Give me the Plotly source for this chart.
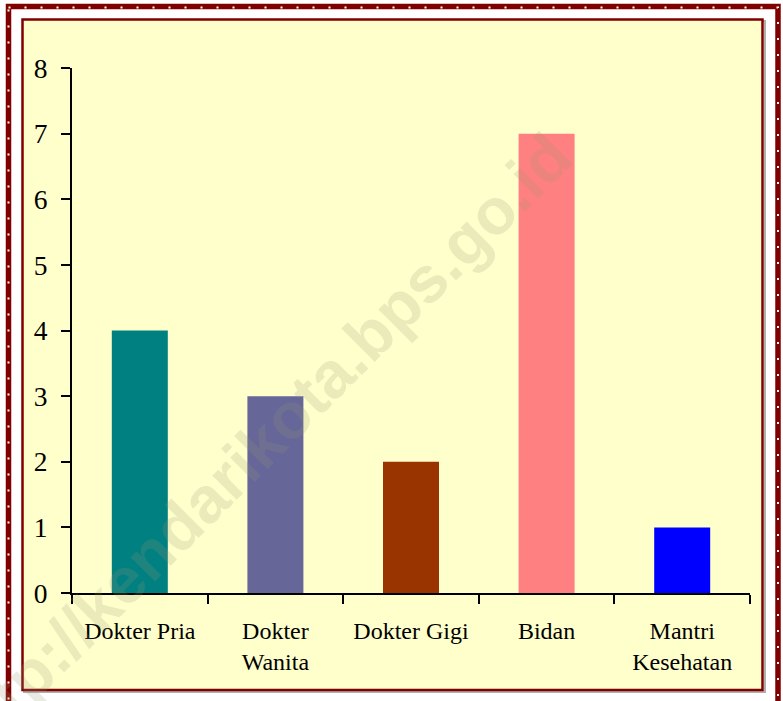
import plotly.graph_objects as go

categories = ["Dokter Pria", "Dokter<br>Wanita", "Dokter Gigi", "Bidan", "Mantri<br>Kesehatan"]
values = [4, 3, 2, 7, 1]
bar_colors = ["#008080", "#666699", "#993300", "#FF8080", "#0000FF"]
y_ticks = [0, 1, 2, 3, 4, 5, 6, 7, 8]
watermark = "http://kendarikota.bps.go.id"

W, H = 783, 701
L, R, T, B = 72, 750, 68, 593  # plot area in pixels


def px(x):
    return (x - L) / (R - L)


def py(y):
    return (B - y) / (B - T)


fig = go.Figure()
fig.add_trace(go.Bar(x=categories, y=values, marker=dict(color=bar_colors, line=dict(width=0)),
                     hoverinfo="skip"))

shapes = [
    # inner frame shadow
    dict(type="rect", xref="paper", yref="paper", x0=px(24), x1=px(765), y0=py(21), y1=py(692),
         line=dict(color="#B0B0B0", width=2), fillcolor="rgba(0,0,0,0)", layer="below"),
    # inner frame (yellow panel)
    dict(type="rect", xref="paper", yref="paper", x0=px(22.5), x1=px(762.5), y0=py(19.5), y1=py(690),
         line=dict(color="#800000", width=2.5), fillcolor="#FFFFCC", layer="below"),
    # outer band
    dict(type="rect", xref="paper", yref="paper", x0=px(8.5), x1=px(778), y0=py(6.5), y1=py(712),
         line=dict(color="#800000", width=5.5), fillcolor="rgba(0,0,0,0)", layer="below"),
    # white dots on outer band
    dict(type="rect", xref="paper", yref="paper", x0=px(8.5), x1=px(778), y0=py(7.5), y1=py(712),
         line=dict(color="white", width=2, dash="2px,14px"), fillcolor="rgba(0,0,0,0)", layer="below"),
]

fig.update_layout(
    width=W, height=H,
    margin=dict(l=L, r=W - R, t=T, b=H - B, pad=0),
    paper_bgcolor="white",
    plot_bgcolor="rgba(0,0,0,0)",
    showlegend=False,
    bargap=0.587,
    shapes=shapes,
    font=dict(family="Liberation Serif, Times New Roman, serif", color="black"),
    xaxis=dict(
        type="category", showline=True, linecolor="black", linewidth=2,
        ticks="outside", tickson="boundaries", ticklen=9, tickwidth=2, tickcolor="black",
        tickfont=dict(size=24, family="Liberation Serif, Times New Roman, serif", color="black"),
        showgrid=False, zeroline=False, fixedrange=True, ticklabelstandoff=15,
    ),
    yaxis=dict(
        range=[0, 8], tickvals=y_ticks, showline=True, linecolor="black", linewidth=2,
        ticks="outside", ticklen=9, tickwidth=2, tickcolor="black",
        tickfont=dict(size=27.5, family="Liberation Serif, Times New Roman, serif", color="black"),
        showgrid=False, zeroline=False, fixedrange=True, ticklabelstandoff=8,
    ),
    annotations=[dict(
        text=watermark, xref="paper", yref="paper", x=px(258), y=py(446),
        xanchor="center", yanchor="middle", showarrow=False, textangle=-45,
        font=dict(family="Liberation Sans, Arial, sans-serif", size=65, color="rgba(150,150,115,0.2)"),
    )],
)
fig.update_annotations(font_weight="bold")

fig.write_html("out.html", config={"displayModeBar": False},
               post_script="document.body.style.margin='0';")
